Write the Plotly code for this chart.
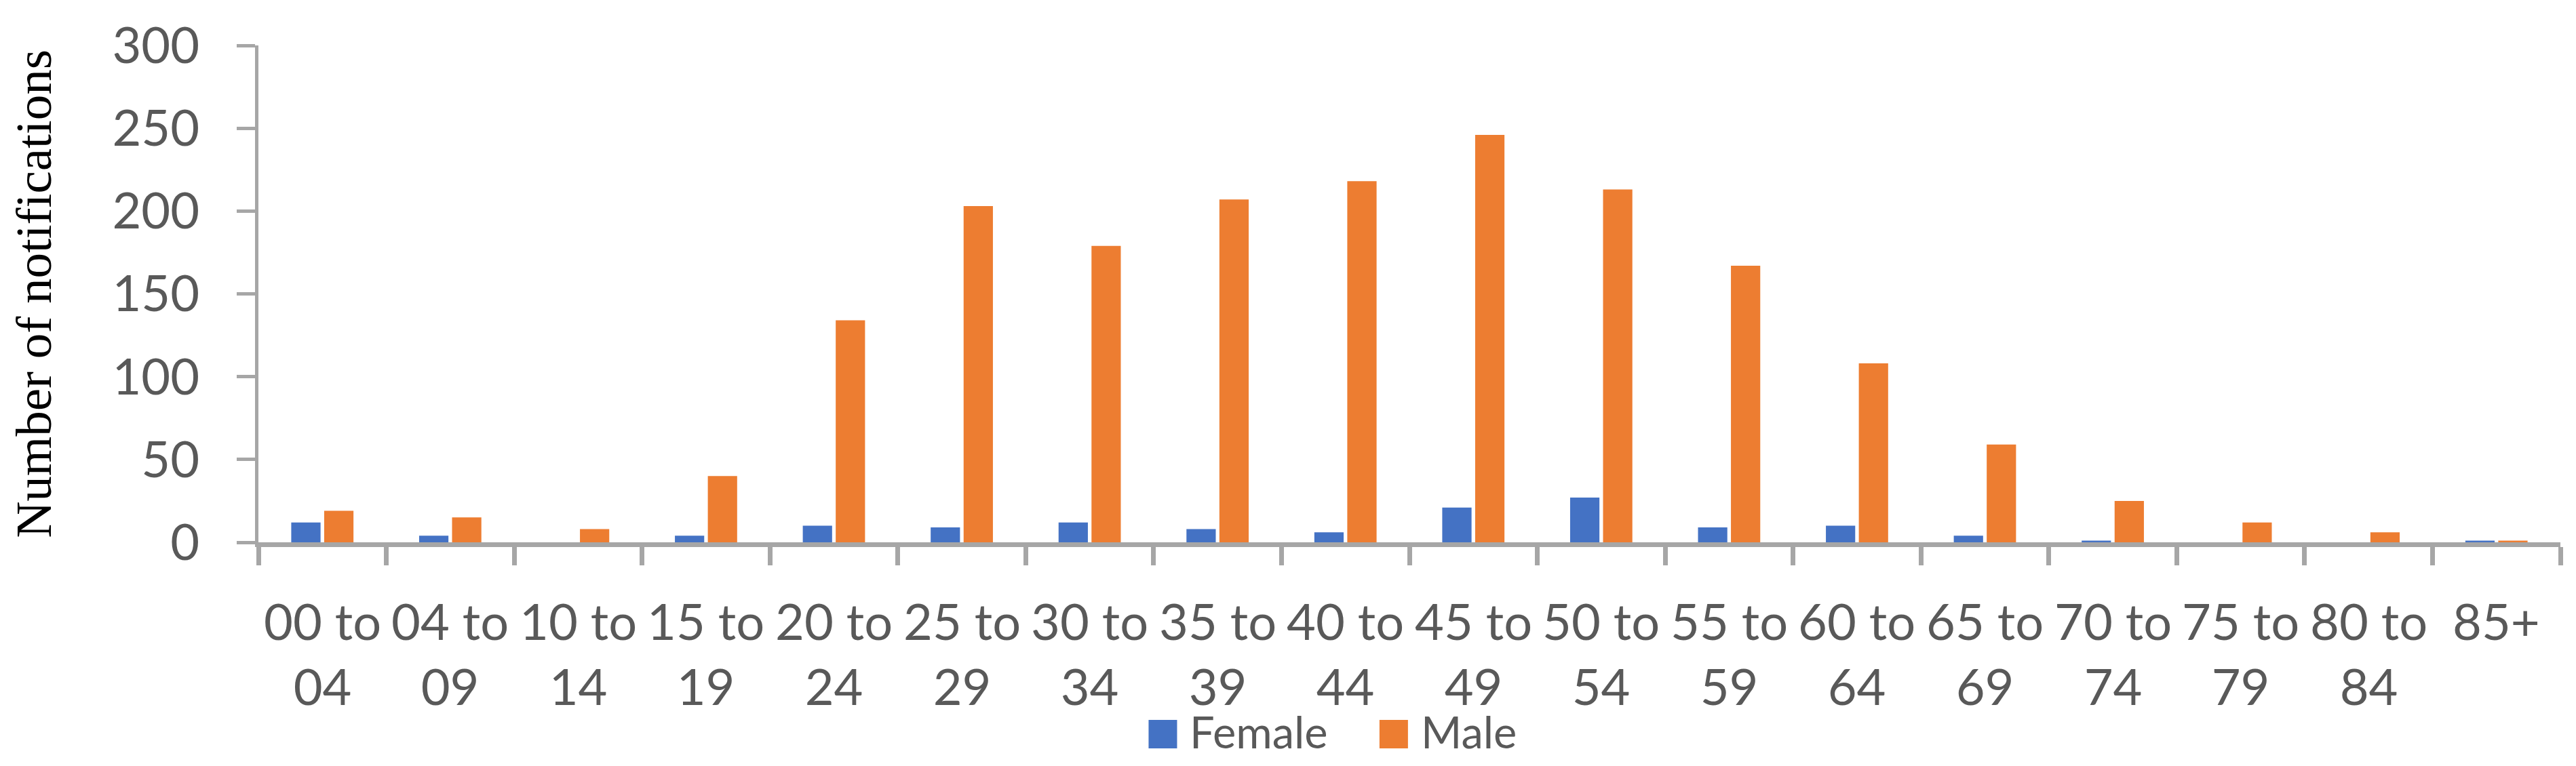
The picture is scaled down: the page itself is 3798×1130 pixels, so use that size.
import plotly.graph_objects as go

categories = ["00 to 04", "04 to 09", "10 to 14", "15 to 19", "20 to 24",
              "25 to 29", "30 to 34", "35 to 39", "40 to 44", "45 to 49",
              "50 to 54", "55 to 59", "60 to 64", "65 to 69", "70 to 74",
              "75 to 79", "80 to 84", "85+"]
tick_labels = ["00 to<br>04", "04 to<br>09", "10 to<br>14", "15 to<br>19", "20 to<br>24",
               "25 to<br>29", "30 to<br>34", "35 to<br>39", "40 to<br>44", "45 to<br>49",
               "50 to<br>54", "55 to<br>59", "60 to<br>64", "65 to<br>69", "70 to<br>74",
               "75 to<br>79", "80 to<br>84", "85+"]
female = [12, 4, 0, 4, 10, 9, 12, 8, 6, 21, 27, 9, 10, 4, 1, 0, 0, 1]
male = [19, 15, 8, 40, 134, 203, 179, 207, 218, 246, 213, 167, 108, 59, 25, 12, 6, 1]
y_ticks = [0, 50, 100, 150, 200, 250, 300]

FEMALE_C = "#4472C4"
MALE_C = "#ED7D31"
AXIS_C = "#A6A6A6"
TEXT_C = "#595959"
FONT = "Lato"

fig = go.Figure()
fig.add_trace(go.Bar(x=categories, y=female, name="Female", marker_color=FEMALE_C,
                     marker_line_width=0, showlegend=False))
fig.add_trace(go.Bar(x=categories, y=male, name="Male", marker_color=MALE_C,
                     marker_line_width=0, showlegend=False))

fig.update_layout(
    width=3798, height=1130,
    margin=dict(l=373, r=31, t=56, b=338),
    paper_bgcolor="white", plot_bgcolor="white",
    barmode="group", bargap=0.485, bargroupgap=0.11,
    font=dict(family=FONT, color=TEXT_C, size=74),
)
fig.update_xaxes(
    type="category", showline=True, linecolor=AXIS_C, linewidth=7,
    ticks="outside", tickson="boundaries", ticklen=27, tickwidth=7, tickcolor=AXIS_C,
    showgrid=False, zeroline=False, showticklabels=False,
)
fig.update_yaxes(
    range=[0, 300], tickvals=y_ticks, showline=True, linecolor=AXIS_C, linewidth=5,
    ticks="outside", ticklen=27, tickwidth=5, tickcolor=AXIS_C,
    showgrid=False, zeroline=False, ticklabelstandoff=40,
    tickfont=dict(family=FONT, color=TEXT_C, size=74),
    title=dict(text="Number of notifications", standoff=72,
               font=dict(family="Liberation Serif", color="black", size=75)),
)

# category labels (two-line) placed under each category
for cat, lab in zip(categories, tick_labels):
    fig.add_annotation(text=lab, xref="x", yref="paper", x=cat, y=-0.095,
                       xanchor="center", yanchor="top", showarrow=False, borderpad=0,
                       font=dict(family=FONT, color=TEXT_C, size=74))

# legend drawn manually for large swatches
legend_items = [("Female", FEMALE_C, 0.3867), ("Male", MALE_C, 0.4870)]
for name, col, xp in legend_items:
    fig.add_shape(type="rect", xref="paper", yref="paper", xsizemode="pixel", ysizemode="pixel",
                  xanchor=xp, yanchor=-0.386, x0=0, x1=42, y0=-21, y1=21,
                  fillcolor=col, line_width=0)
    fig.add_annotation(text=name, xref="paper", yref="paper", x=xp, xshift=60, y=-0.386,
                       yshift=4, xanchor="left", yanchor="middle", showarrow=False, borderpad=0,
                       font=dict(family=FONT, color=TEXT_C, size=65))

fig.write_html("out.html")
